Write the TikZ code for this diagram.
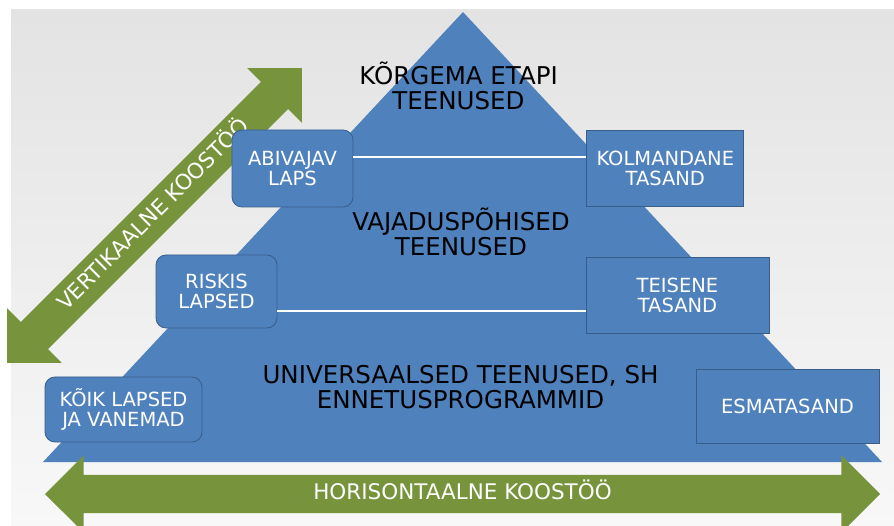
\documentclass[tikz,border=0pt]{standalone}
\usepackage{fontspec}
\setmainfont{DejaVu Sans}
\usetikzlibrary{positioning, shapes.arrows}
\usepackage{xcolor}
\definecolor{pyrblue}{HTML}{4F81BD}
\definecolor{boxline}{HTML}{385D8A}
\definecolor{coopgreen}{HTML}{77933C}
\definecolor{bgtop}{HTML}{E3E3E3}
\definecolor{bgbottom}{HTML}{F8F8F8}
\tikzset{
	x=1pt, y=-1pt,
	levelbox/.style={draw=boxline, line width=0.8pt, fill=pyrblue, text=white,
		align=center, inner sep=0pt, font=\fontsize{19.5}{20}\selectfont},
	childbox/.style={levelbox, rounded corners=10pt},
	tiertext/.style={align=center, font=\fontsize{24.5}{25}\selectfont},
	coop/.style={double arrow, fill=coopgreen, text=white,
		font=\fontsize{21.5}{22}\selectfont, text height=15pt, text depth=4pt,
		inner ysep=9.5pt, minimum width=77pt, double arrow head extend=19.5pt},
	tierline/.style={white, line width=1.5pt}}

\begin{document}
\begin{tikzpicture}
		\clip (0,0) rectangle (894,526);
		%background and pyramid
		\shade[top color=bgtop, bottom color=bgbottom] (11,10) rectangle (894,526);
		\fill[pyrblue] (43,462) -- (463,12) -- (882,462) -- cycle;
		
		%arrows
		\node[coop, minimum height=835pt] (horiz) at (462.5,494) {HORISONTAALNE KOOSTÖÖ};
		\node[coop, minimum height=417pt, rotate=45] (vert) at (154.5,215.5) {VERTIKAALNE KOOSTÖÖ};
		
		%tiers
		\node[tiertext] (top) at (458.5,86) {KÕRGEMA ETAPI\\TEENUSED};
		\node[tiertext] (mid) at (461,231.5) {VAJADUSPÕHISED\\TEENUSED};
		\node[tiertext] (low) at (460.5,387.5) {UNIVERSAALSED TEENUSED, SH\\ENNETUSPROGRAMMID};
		
		%LHS
		\node[childbox, minimum width=121pt, minimum height=77pt] (abivajav) at (292.5,168.5) {ABIVAJAV\\LAPS};
		\node[childbox, minimum width=121pt, minimum height=73pt] (riskis) at (216.5,291.5) {RISKIS\\LAPSED};
		\node[childbox, minimum width=157pt, minimum height=65pt] (koik) at (123.5,409.5) {KÕIK LAPSED\\JA VANEMAD};
		
		%RHS
		\node[levelbox, minimum width=157pt, minimum height=76pt, right=233pt of abivajav] (kolmandane) {KOLMANDANE\\TASAND};
		\node[levelbox, minimum width=183pt, minimum height=76pt] (teisene) at (677.5,295) {TEISENE\\TASAND};
		\node[levelbox, minimum width=183pt, minimum height=74pt] (esmatasand) at (787.5,406) {ESMATASAND};
		
		\draw[tierline] ([yshift=11.5pt]abivajav.east) -- ([yshift=11.5pt]abivajav.east -| kolmandane.west);
		\draw[tierline] ([yshift=-19.5pt]riskis.east) -- ([yshift=-19.5pt]riskis.east -| teisene.west);
	\end{tikzpicture}
\end{document}
